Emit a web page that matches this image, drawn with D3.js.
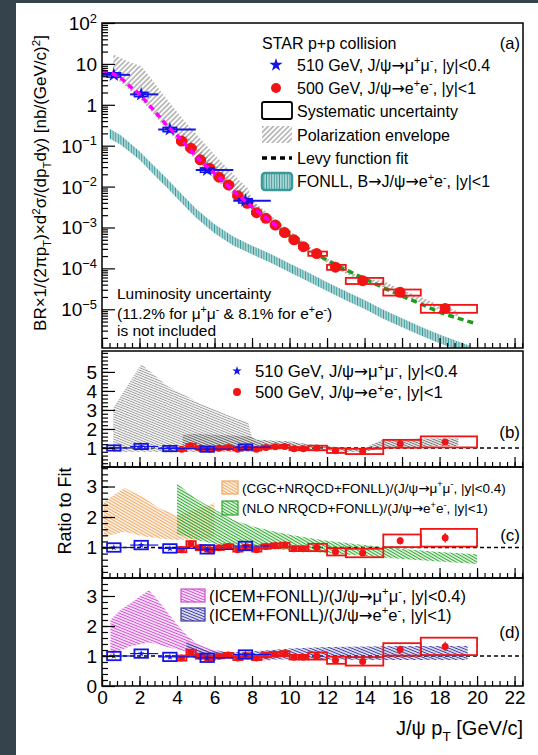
<!DOCTYPE html>
<html>
<head>
<meta charset="utf-8">
<script src="https://cdn.jsdelivr.net/npm/d3@7"></script>
<style>
html, body { margin: 0; padding: 0; background: #fff; }
svg { display: block; }
</style>
</head>
<body>
<script>
// ---------- values ----------
var xTickVals = [0, 2, 4, 6, 8, 10, 12, 14, 16, 18, 20, 22];
var logTickVals = [1e-5, 1e-4, 1e-3, 1e-2, 1e-1, 1, 10, 100];

// 510 GeV, J/psi -> mu+mu-, |y|<0.4
var muPt    = [0.63, 2.09, 3.62, 5.61, 7.65];
var muBinLo = [0, 1.5, 3, 5, 7];
var muBinHi = [1.5, 3, 5, 7, 9];
var muXsec  = [5.4, 1.8, 0.25, 0.0255, 0.0045];
var muStat  = [0.04, 0.05, 0.06, 0.08, 0.1];
var muSys   = [0.12, 0.12, 0.12, 0.12, 0.12];
var muRatio = [1.0, 1.08, 0.97, 0.94, 1.05];

// 500 GeV, J/psi -> e+e-, |y|<1
var eePt    = [4.24, 4.74, 5.24, 5.74, 6.24, 6.74, 7.24, 7.74, 8.24, 8.74, 9.24, 9.74, 10.24, 10.74, 11.45, 12.45, 13.9, 15.9, 18.3];
var eeBinLo = [4, 4.5, 5, 5.5, 6, 6.5, 7, 7.5, 8, 8.5, 9, 9.5, 10, 10.5, 11, 12, 13, 15, 17];
var eeBinHi = [4.5, 5, 5.5, 6, 6.5, 7, 7.5, 8, 8.5, 9, 9.5, 10, 10.5, 11, 12, 13, 15, 17, 20];
var eeXsec  = [0.13, 0.087, 0.045, 0.028, 0.017, 0.011, 0.006, 0.0039, 0.0023, 0.00167, 0.00115, 0.00075, 0.0005, 0.00034, 0.00023, 1.07e-4, 5.0e-5, 2.6e-5, 1.05e-5];
var eeRatio = [0.93, 1.12, 0.99, 0.93, 0.99, 1.03, 0.93, 1.01, 0.93, 1.03, 1.06, 1.08, 0.96, 0.96, 1.0, 0.86, 0.82, 1.22, 1.32];
var eeSys   = [0.09, 0.08, 0.08, 0.07, 0.07, 0.07, 0.07, 0.07, 0.07, 0.07, 0.07, 0.07, 0.08, 0.08, 0.12, 0.14, 0.17, 0.17, 0.22];
var eeStat  = [0.04, 0.04, 0.04, 0.04, 0.04, 0.04, 0.05, 0.05, 0.05, 0.05, 0.06, 0.06, 0.06, 0.07, 0.06, 0.08, 0.08, 0.1, 0.12];

// Levy function fit
var levyPt  = [0, 0.5, 1, 1.5, 2, 2.5, 3, 3.5, 4, 4.5, 5, 5.5, 6, 6.5, 7, 7.5, 8, 8.5, 9, 9.5, 10, 11, 12, 13, 14, 15, 16, 17, 18, 19, 20];
var levyVal = [6.8, 5.9, 4.5, 2.8, 1.8, 1.0, 0.55, 0.3, 0.18, 0.1, 0.056, 0.034, 0.021, 0.013, 0.0079, 0.005, 0.0032, 0.0021, 0.0014, 0.00093,
               0.00062, 0.0003, 0.00016, 9.3e-5, 5.6e-5, 3.4e-5, 2.1e-5, 1.35e-5, 8.5e-6, 6.0e-6, 4.4e-6];

// FONLL B -> J/psi band
var fonllPt = [0.4, 1, 1.5, 2, 2.5, 3, 3.5, 4, 5, 6, 7, 8, 9, 10, 11, 12, 13, 14, 15, 16, 17, 18, 19, 19.6];
var fonllHi = [0.26, 0.18, 0.115, 0.073, 0.043, 0.0255, 0.0152, 0.0086, 0.0029, 0.0012, 0.0006, 0.00036, 0.000225, 0.000132, 7.9e-5, 4.6e-5,
               2.75e-5, 1.69e-5, 9.7e-6, 6.0e-6, 3.75e-6, 2.42e-6, 1.62e-6, 1.3e-6];
var fonllLo = [0.15, 0.105, 0.069, 0.045, 0.026, 0.0152, 0.0091, 0.0052, 0.00175, 0.00072, 0.000365, 0.00022, 0.000137, 8.0e-5, 4.8e-5, 2.8e-5,
               1.67e-5, 1.02e-5, 5.9e-6, 3.65e-6, 2.3e-6, 1.48e-6, 9.9e-7, 8.0e-7];

// polarization envelopes, panel (a)
var polMuPt = [0.6, 1.0, 1.5, 2.1, 2.6, 3.5, 4.4, 5.3, 6.2, 7.0, 7.8, 8.0, 8.6];
var polMuHi = [17, 14, 11, 8.8, 4.5, 1.3, 0.4, 0.14, 0.048, 0.02, 0.0089, 0.0048, 0.0025];
var polMuLo = [4.4, 3.6, 2.2, 1.3, 0.72, 0.23, 0.086, 0.032, 0.013, 0.0063, 0.003, 0.0026, 0.0016];
var polEePt = [4.3, 5, 6, 7, 8, 8.2, 9, 10, 11, 12, 13, 14, 15, 16, 17, 18, 19];
var polEeHi = [0.22, 0.098, 0.036, 0.013, 0.0051, 0.0039, 0.002, 0.00084, 3.6e-4, 1.76e-4, 9.3e-5, 5.6e-5, 4.9e-5, 3.0e-5, 2.0e-5, 1.28e-5, 9.0e-6];
var polEeLo = [0.124, 0.053, 0.02, 0.0075, 0.003, 0.0026, 0.0013, 0.00058, 2.7e-4, 1.36e-4, 7.4e-5, 4.5e-5, 3.4e-5, 2.2e-5, 1.42e-5, 9.4e-6, 6.6e-6];

// panel (b): polarization envelopes as ratio to fit
var polMuRPt = [0.6, 2.1, 3.5, 5.3, 7.0, 7.8, 8.0, 8.6];
var polMuRHi = [3.1, 5.4, 4.25, 3.3, 2.6, 2.35, 1.5, 1.25];
var polMuRLo = [0.78, 0.8, 0.78, 0.78, 0.8, 0.8, 0.82, 0.85];
var polEeRPt = [4.3, 5, 6, 7, 8, 8.2, 9, 10, 11, 12, 13, 14, 15, 16, 17, 18, 19];
var polEeRHi = [1.7, 1.75, 1.7, 1.65, 1.6, 1.45, 1.4, 1.35, 1.2, 1.1, 1.0, 1.0, 1.45, 1.45, 1.5, 1.5, 1.5];
var polEeRLo = [0.95, 0.95, 0.95, 0.95, 0.95, 0.95, 0.95, 0.93, 0.9, 0.85, 0.8, 0.8, 1.0, 1.05, 1.05, 1.1, 1.1];

// panel (c): CGC+NRQCD+FONLL and NLO NRQCD+FONLL
var cgcPt = [0.1, 1.2, 2.2, 3.0, 4.0, 5.0, 6.0];
var cgcHi = [2.5, 2.95, 2.65, 2.3, 2.05, 2.25, 2.45];
var cgcLo = [1.35, 1.52, 1.37, 1.3, 1.25, 1.28, 1.33];
var nloPt = [4.0, 5, 6, 7, 8, 9, 10, 12, 14, 16, 18, 20];
var nloHi = [3.1, 2.6, 2.25, 1.9, 1.7, 1.55, 1.42, 1.22, 1.08, 0.95, 0.85, 0.78];
var nloLo = [1.45, 1.25, 1.12, 1.02, 0.98, 0.95, 0.92, 0.82, 0.72, 0.62, 0.54, 0.46];

// panel (d): ICEM+FONLL
var icemMuPt = [0.45, 1.0, 1.5, 2.5, 3.0, 3.5, 4.0, 4.5, 5.0, 5.5, 6.0, 7.0, 8.0, 9.0];
var icemMuHi = [2.2, 2.55, 2.75, 3.2, 2.85, 2.45, 2.05, 1.7, 1.45, 1.3, 1.2, 1.12, 1.08, 1.05];
var icemMuLo = [1.02, 1.2, 1.32, 1.45, 1.38, 1.3, 1.22, 1.15, 1.08, 1.0, 0.97, 0.93, 0.88, 0.85];
var icemEePt = [4.5, 5, 5.5, 6, 7, 8, 9, 10, 12, 14, 16, 18, 19.5];
var icemEeHi = [1.5, 1.35, 1.22, 1.15, 1.12, 1.15, 1.2, 1.25, 1.3, 1.32, 1.33, 1.33, 1.33];
var icemEeLo = [0.95, 0.93, 0.92, 0.9, 0.9, 0.9, 0.88, 0.88, 0.88, 0.87, 0.87, 0.87, 0.87];

// ---------- drawing ----------
var W = 538, H = 755;
var FONT = '"Liberation Sans", Arial, Helvetica, sans-serif';
var RED = "#f01414", BLUE = "#1414e6";

var svg = d3.select("body").append("svg")
  .attr("width", W).attr("height", H)
  .style("font-family", FONT);

svg.append("rect").attr("width", W).attr("height", H).attr("fill", "#fff");
svg.append("rect").attr("width", 16).attr("height", H).attr("fill", "#34434c");
svg.append("rect").attr("width", W).attr("height", 3).attr("fill", "#34434c");

var defs = svg.append("defs");

function hatch(id, color, angle, gap, w) {
  var p = defs.append("pattern").attr("id", id)
    .attr("patternUnits", "userSpaceOnUse")
    .attr("width", gap).attr("height", gap)
    .attr("patternTransform", "rotate(" + angle + ")");
  p.append("line").attr("x1", gap / 2).attr("y1", 0).attr("x2", gap / 2).attr("y2", gap)
    .attr("stroke", color).attr("stroke-width", w);
}
hatch("hGrayA", "#8c8c8c", 45, 3.6, 1.1);
hatch("hGrayB", "#9a9a9a", -68, 2.3, 1);
hatch("hGrayB2", "#6e6e6e", -68, 2.3, 1.1);
hatch("hTeal", "#3a9a9a", 0, 2.6, 1.6);
hatch("hOrange", "#f0a65c", -60, 2.6, 1.2);
hatch("hGreen", "#2ea82e", -60, 2.6, 1.2);
hatch("hMagenta", "#d24cd2", -68, 2.6, 1.2);
hatch("hNavy", "#3a3aa4", -68, 2.6, 1.2);

var x = d3.scaleLinear().domain([0, 22.45]).range([102, 523]);
var yA = d3.scaleLog().domain([1.13e-6, 100]).range([348, 23]);
var yB = d3.scaleLinear().domain([0, 6.1]).range([467, 351]);
var yC = d3.scaleLinear().domain([0, 3.64]).range([578, 467]);
var yD = d3.scaleLinear().domain([0, 3.6]).range([686, 578]);

function panel(id, y) {
  var r = y.range();
  defs.append("clipPath").attr("id", id).append("rect")
    .attr("x", x.range()[0]).attr("y", r[1])
    .attr("width", x.range()[1] - x.range()[0]).attr("height", r[0] - r[1]);
  return svg.append("g").attr("clip-path", "url(#" + id + ")");
}

function band(g, y, pt, lo, hi, fill) {
  var area = d3.area()
    .x(function (d) { return x(d[0]); })
    .y0(function (d) { return y(d[1]); })
    .y1(function (d) { return y(d[2]); });
  g.append("path").datum(d3.zip(pt, lo, hi)).attr("d", area).attr("fill", fill);
}

function starPath(r) {
  return d3.symbol().type(d3.symbolStar).size(r * r / 0.8908)();
}

// text with ^{sup} and _{sub}; arrows set in DejaVu Sans so they stay wide and tight
function richText(parent, px, py, str, size, anchor) {
  var t = parent.append("text").attr("x", px).attr("y", py)
    .attr("text-anchor", anchor || "start")
    .style("font-size", size + "px").attr("fill", "#000");
  var parts = str.split(/(\^\{[^}]*\}|_\{[^}]*\})/);
  var prev = 0;
  parts.forEach(function (p) {
    if (!p) return;
    var shift = 0, fs = size, s = p;
    if (p.charAt(0) === "^") { s = p.slice(2, -1); fs = size * 0.68; shift = -size * 0.38; }
    else if (p.charAt(0) === "_") { s = p.slice(2, -1); fs = size * 0.68; shift = size * 0.28; }
    var first = true;
    s.split(/(\u2192)/).forEach(function (q) {
      if (!q) return;
      var ts = t.append("tspan").attr("dy", first ? shift - prev : 0).style("font-size", fs + "px").text(q);
      if (q === "\u2192") ts.style("font-family", '"DejaVu Sans", sans-serif');
      first = false;
    });
    prev = shift;
  });
  return t;
}

var mu = muPt.map(function (p, i) {
  return {pt: p, lo: muBinLo[i], hi: muBinHi[i], v: muXsec[i], r: muRatio[i], sys: muSys[i], stat: muStat[i]};
});
var ee = eePt.map(function (p, i) {
  return {pt: p, lo: eeBinLo[i], hi: eeBinHi[i], v: eeXsec[i], r: eeRatio[i], sys: eeSys[i], stat: eeStat[i]};
});
var levy = d3.zip(levyPt, levyVal);

// ----- panel (a) -----
var gA = panel("clipA", yA);
band(gA, yA, polMuPt, polMuLo, polMuHi, "url(#hGrayA)");
band(gA, yA, polEePt, polEeLo, polEeHi, "url(#hGrayA)");
band(gA, yA, fonllPt, fonllLo, fonllHi, "url(#hTeal)");

var levyLine = d3.line()
  .x(function (d) { return x(d[0]); })
  .y(function (d) { return yA(d[1]); })
  .curve(d3.curveMonotoneX);

gA.append("path").datum(levy.filter(function (d) { return d[0] >= 7; }))
  .attr("d", levyLine).attr("fill", "none")
  .attr("stroke", "#1f9a1f").attr("stroke-width", 3.5).attr("stroke-dasharray", "6,4");

gA.selectAll(".eeSys").data(ee).enter().append("rect")
  .attr("x", function (d) { return x(d.lo); })
  .attr("width", function (d) { return x(d.hi) - x(d.lo); })
  .attr("y", function (d) { return yA(d.v * (1 + d.sys)); })
  .attr("height", function (d) { return yA(d.v * (1 - d.sys)) - yA(d.v * (1 + d.sys)); })
  .attr("fill", "none").attr("stroke", RED).attr("stroke-width", 1.8);
gA.selectAll(".eeStat").data(ee).enter().append("line")
  .attr("x1", function (d) { return x(d.pt); }).attr("x2", function (d) { return x(d.pt); })
  .attr("y1", function (d) { return yA(d.v * (1 + d.stat)); })
  .attr("y2", function (d) { return yA(d.v * (1 - d.stat)); })
  .attr("stroke", RED).attr("stroke-width", 1.5);
gA.selectAll(".eeDot").data(ee).enter().append("circle")
  .attr("cx", function (d) { return x(d.pt); }).attr("cy", function (d) { return yA(d.v); })
  .attr("r", 5.5).attr("fill", RED);

gA.selectAll(".muBar").data(mu).enter().append("line")
  .attr("x1", function (d) { return x(d.lo); }).attr("x2", function (d) { return x(d.hi); })
  .attr("y1", function (d) { return yA(d.v); }).attr("y2", function (d) { return yA(d.v); })
  .attr("stroke", BLUE).attr("stroke-width", 2);
gA.selectAll(".muSys").data(mu).enter().append("rect")
  .attr("x", function (d) { return x(d.pt - 0.36); })
  .attr("width", function (d) { return x(d.pt + 0.36) - x(d.pt - 0.36); })
  .attr("y", function (d) { return yA(d.v * (1 + d.sys)); })
  .attr("height", function (d) { return yA(d.v * (1 - d.sys)) - yA(d.v * (1 + d.sys)); })
  .attr("fill", "none").attr("stroke", BLUE).attr("stroke-width", 1.6);
gA.selectAll(".muStar").data(mu).enter().append("path")
  .attr("d", starPath(7.5))
  .attr("transform", function (d) { return "translate(" + x(d.pt) + "," + yA(d.v) + ")"; })
  .attr("fill", BLUE);

gA.append("path").datum(levy.filter(function (d) { return d[0] <= 9.5; }))
  .attr("d", levyLine).attr("fill", "none")
  .attr("stroke", "#ff00ff").attr("stroke-width", 3.5).attr("stroke-dasharray", "6,4");

// ----- ratio panels -----
function ratioPoints(g, y) {
  g.selectAll(".eeSysR").data(ee).enter().append("rect")
    .attr("x", function (d) { return x(d.lo); })
    .attr("width", function (d) { return x(d.hi) - x(d.lo); })
    .attr("y", function (d) { return y(d.r * (1 + d.sys)); })
    .attr("height", function (d) { return y(d.r * (1 - d.sys)) - y(d.r * (1 + d.sys)); })
    .attr("fill", "none").attr("stroke", RED).attr("stroke-width", 1.8);
  g.selectAll(".eeStatR").data(ee).enter().append("line")
    .attr("x1", function (d) { return x(d.pt); }).attr("x2", function (d) { return x(d.pt); })
    .attr("y1", function (d) { return y(d.r * (1 + d.stat)); })
    .attr("y2", function (d) { return y(d.r * (1 - d.stat)); })
    .attr("stroke", RED).attr("stroke-width", 1.3);
  g.selectAll(".eeDotR").data(ee).enter().append("circle")
    .attr("cx", function (d) { return x(d.pt); }).attr("cy", function (d) { return y(d.r); })
    .attr("r", 3.5).attr("fill", RED);

  g.selectAll(".muBarR").data(mu).enter().append("line")
    .attr("x1", function (d) { return x(d.lo); }).attr("x2", function (d) { return x(d.hi); })
    .attr("y1", function (d) { return y(d.r); }).attr("y2", function (d) { return y(d.r); })
    .attr("stroke", BLUE).attr("stroke-width", 1.2);
  g.selectAll(".muSysR").data(mu).enter().append("rect")
    .attr("x", function (d) { return x(d.pt - 0.36); })
    .attr("width", function (d) { return x(d.pt + 0.36) - x(d.pt - 0.36); })
    .attr("y", function (d) { return y(d.r + 0.14); })
    .attr("height", function (d) { return y(d.r - 0.14) - y(d.r + 0.14); })
    .attr("fill", "none").attr("stroke", BLUE).attr("stroke-width", 1.8);
  g.selectAll(".muStatR").data(mu).enter().append("line")
    .attr("x1", function (d) { return x(d.pt); }).attr("x2", function (d) { return x(d.pt); })
    .attr("y1", function (d) { return y(d.r * (1 + d.stat)); })
    .attr("y2", function (d) { return y(d.r * (1 - d.stat)); })
    .attr("stroke", BLUE).attr("stroke-width", 1.2);
  g.selectAll(".muStarR").data(mu).enter().append("path")
    .attr("d", starPath(3.5))
    .attr("transform", function (d) { return "translate(" + x(d.pt) + "," + y(d.r) + ")"; })
    .attr("fill", BLUE);
}

function unityLine(g, y) {
  g.append("line")
    .attr("x1", x(0)).attr("x2", x(22.45))
    .attr("y1", y(1)).attr("y2", y(1))
    .attr("stroke", "#000").attr("stroke-width", 1.6).attr("stroke-dasharray", "4,3");
}

var gB = panel("clipB", yB);
unityLine(gB, yB);
band(gB, yB, polMuRPt, polMuRLo, polMuRHi, "url(#hGrayB)");
band(gB, yB, polEeRPt, polEeRLo, polEeRHi, "url(#hGrayB2)");
ratioPoints(gB, yB);

var gC = panel("clipC", yC);
unityLine(gC, yC);
band(gC, yC, cgcPt, cgcLo, cgcHi, "url(#hOrange)");
band(gC, yC, nloPt, nloLo, nloHi, "url(#hGreen)");
ratioPoints(gC, yC);

var gD = panel("clipD", yD);
unityLine(gD, yD);
band(gD, yD, icemMuPt, icemMuLo, icemMuHi, "url(#hMagenta)");
band(gD, yD, icemEePt, icemEeLo, icemEeHi, "url(#hNavy)");
ratioPoints(gD, yD);

// ----- axes and frames -----
function styleAxis(g, size) {
  g.attr("font-family", FONT).attr("font-size", size || 19);
  g.select(".domain").remove();
  g.selectAll(".tick line").attr("stroke", "#000").attr("stroke-width", 1.2);
  g.selectAll(".tick text").attr("fill", "#000");
}

function xAxes(y, labels) {
  var b = y.range()[0];
  var gMin = svg.append("g").attr("transform", "translate(0," + b + ")")
    .call(d3.axisBottom(x).tickValues(d3.range(0, 22.45, 0.4)).tickSize(-5).tickFormat(""));
  styleAxis(gMin);
  var gMaj = svg.append("g").attr("transform", "translate(0," + b + ")")
    .call(d3.axisBottom(x).tickValues(xTickVals).tickSize(-10).tickPadding(5)
      .tickFormat(labels ? d3.format("d") : ""));
  styleAxis(gMaj);
}

function yRatioAxis(y, labels) {
  var top = y.domain()[1];
  var gMin = svg.append("g").attr("transform", "translate(" + x.range()[0] + ",0)")
    .call(d3.axisLeft(y).tickValues(d3.range(0.2, top, 0.2)).tickSize(-6).tickFormat(""));
  styleAxis(gMin);
  var gMaj = svg.append("g").attr("transform", "translate(" + x.range()[0] + ",0)")
    .call(d3.axisLeft(y).tickValues(labels).tickSize(-13).tickPadding(5).tickFormat(d3.format("d")));
  styleAxis(gMaj, 19);
}

function frame(y) {
  var r = y.range();
  svg.append("rect")
    .attr("x", x.range()[0]).attr("y", r[1])
    .attr("width", x.range()[1] - x.range()[0]).attr("height", r[0] - r[1])
    .attr("fill", "none").attr("stroke", "#000").attr("stroke-width", 1.5);
}

// panel (a) log axis
var logMinor = [];
d3.range(-6, 2).forEach(function (e) {
  d3.range(2, 10).forEach(function (m) {
    var v = m * Math.pow(10, e);
    if (v > yA.domain()[0] && v < yA.domain()[1]) logMinor.push(v);
  });
});
styleAxis(svg.append("g").attr("transform", "translate(" + x.range()[0] + ",0)")
  .call(d3.axisLeft(yA).tickValues(logMinor).tickSize(-6).tickFormat("")));
styleAxis(svg.append("g").attr("transform", "translate(" + x.range()[0] + ",0)")
  .call(d3.axisLeft(yA).tickValues(logTickVals).tickSize(-13).tickFormat("")));
logTickVals.forEach(function (v) {
  var e = Math.round(Math.log10(v));
  var s = e === 0 ? "1" : e === 1 ? "10" : "10^{" + (e < 0 ? "\u2212" + (-e) : e) + "}";
  richText(svg, 97, yA(v) + 7, s, 19, "end");
});

xAxes(yA, false);
xAxes(yB, false);
xAxes(yC, false);
xAxes(yD, true);
yRatioAxis(yB, [1, 2, 3, 4, 5]);
yRatioAxis(yC, [1, 2, 3]);
yRatioAxis(yD, [0, 1, 2, 3]);
frame(yA); frame(yB); frame(yC); frame(yD);

// ----- titles -----
richText(svg.append("g").attr("transform", "translate(46,183) rotate(-90)"), 0, 0,
  "BR\u00d71/(2\u03c0p_{T})\u00d7d^{2}\u03c3/(dp_{T}dy) [nb/(GeV/c)^{2}]", 17, "middle");
richText(svg.append("g").attr("transform", "translate(71,511) rotate(-90)"), 0, 0,
  "Ratio to Fit", 18, "middle");
richText(svg, 523, 735, "J/\u03c8 p_{T} [GeV/c]", 20, "end");

// ----- legend, panel (a) -----
richText(svg, 262, 49, "STAR p+p collision", 16);
richText(svg, 520, 49, "(a)", 16.5, "end");
svg.append("path").attr("d", starPath(7)).attr("transform", "translate(276,65)").attr("fill", BLUE);
richText(svg, 297, 70.5, "510 GeV, J/\u03c8\u2192\u03bc^{+}\u03bc^{-}, |y|<0.4", 16);
svg.append("circle").attr("cx", 276).attr("cy", 88).attr("r", 5).attr("fill", RED);
richText(svg, 297, 93.5, "500 GeV, J/\u03c8\u2192e^{+}e^{-}, |y|<1", 16);
svg.append("rect").attr("x", 262).attr("y", 102).attr("width", 30).attr("height", 17).attr("rx", 2)
  .attr("fill", "#fff").attr("stroke", "#000").attr("stroke-width", 1.8);
richText(svg, 297, 116.5, "Systematic uncertainty", 16);
svg.append("rect").attr("x", 262).attr("y", 126).attr("width", 30).attr("height", 17)
  .attr("fill", "url(#hGrayA)");
richText(svg, 297, 140.5, "Polarization envelope", 16);
svg.append("line").attr("x1", 262).attr("x2", 292).attr("y1", 158).attr("y2", 158)
  .attr("stroke", "#000").attr("stroke-width", 3.5).attr("stroke-dasharray", "5,4");
richText(svg, 297, 163.5, "Levy function fit", 16);
svg.append("rect").attr("x", 262).attr("y", 173).attr("width", 30).attr("height", 17).attr("rx", 3)
  .attr("fill", "url(#hTeal)").attr("stroke", "#3a9a9a").attr("stroke-width", 2.5);
richText(svg, 297, 187, "FONLL, B\u2192J/\u03c8\u2192e^{+}e^{-}, |y|<1", 16);

richText(svg, 117, 298.5, "Luminosity uncertainty", 15.5);
richText(svg, 117, 318.5, "(11.2% for \u03bc^{+}\u03bc^{-} & 8.1% for e^{+}e^{-})", 15.5);
richText(svg, 117, 336, "is not included", 15.5);

// ----- legend, panel (b) -----
svg.append("path").attr("d", starPath(5)).attr("transform", "translate(237,371)").attr("fill", BLUE);
richText(svg, 255, 377, "510 GeV, J/\u03c8\u2192\u03bc^{+}\u03bc^{-}, |y|<0.4", 16.8);
svg.append("circle").attr("cx", 237).attr("cy", 392).attr("r", 4).attr("fill", RED);
richText(svg, 255, 398, "500 GeV, J/\u03c8\u2192e^{+}e^{-}, |y|<1", 16.8);
richText(svg, 520, 438, "(b)", 17, "end");

// ----- legend, panel (c) -----
svg.append("rect").attr("x", 222).attr("y", 481).attr("width", 16).attr("height", 13)
  .attr("fill", "url(#hOrange)").attr("stroke", "#f0a65c").attr("stroke-width", 1.2);
richText(svg, 242, 492.5, "(CGC+NRQCD+FONLL)/(J/\u03c8\u2192\u03bc^{+}\u03bc^{-}, |y|<0.4)", 13.5);
svg.append("rect").attr("x", 222).attr("y", 501).attr("width", 16).attr("height", 14)
  .attr("fill", "url(#hGreen)").attr("stroke", "#2ea82e").attr("stroke-width", 1.2);
richText(svg, 242, 513, "(NLO NRQCD+FONLL)/(J/\u03c8\u2192e^{+}e^{-}, |y|<1)", 13.5);
richText(svg, 520, 541, "(c)", 17, "end");

// ----- legend, panel (d) -----
svg.append("rect").attr("x", 181).attr("y", 589).attr("width", 24).attr("height", 13)
  .attr("fill", "url(#hMagenta)").attr("stroke", "#d24cd2").attr("stroke-width", 1.2);
richText(svg, 209, 601.5, "(ICEM+FONLL)/(J/\u03c8\u2192\u03bc^{+}\u03bc^{-}, |y|<0.4)", 16.5);
svg.append("rect").attr("x", 181).attr("y", 608).attr("width", 24).attr("height", 13)
  .attr("fill", "url(#hNavy)").attr("stroke", "#3a3aa4").attr("stroke-width", 1.2);
richText(svg, 209, 620.5, "(ICEM+FONLL)/(J/\u03c8\u2192e^{+}e^{-}, |y|<1)", 16.5);
richText(svg, 520, 638, "(d)", 17, "end");
</script>
</body>
</html>
